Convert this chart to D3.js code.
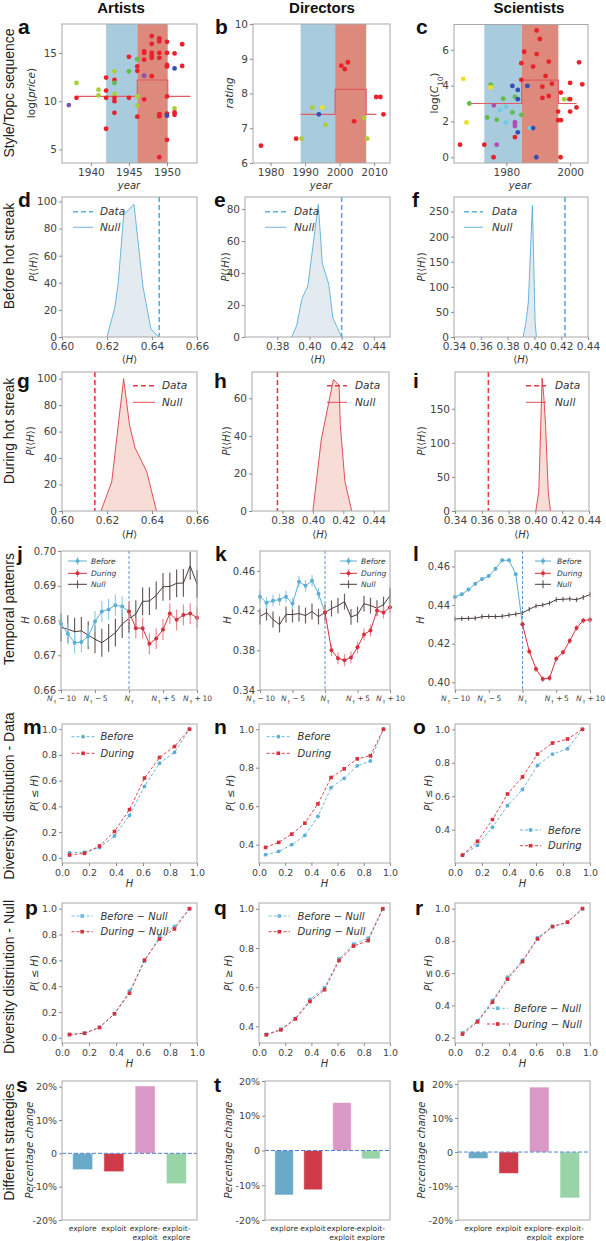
<!DOCTYPE html>
<html>
<head>
<meta charset="utf-8">
<script src="https://d3js.org/d3.v7.min.js"></script>
<style>
  body { margin: 0; background: #fff; }
  svg { display: block; }
</style>
</head>
<body>
<script>
// ---- a–c: style / topic sequences, [year, value, colour key] ----
const aPoints = [
  [1937.1, 9.6, 'P'], [1938.1, 10.35, 'R'], [1938.1, 11.9, 'Y'], [1941.0, 11.2, 'Y'], [1941.0, 10.6, 'Y'],
  [1942.0, 12.45, 'R'], [1942.0, 11.1, 'R'], [1942.0, 10.35, 'R'], [1942.0, 7.15, 'R'],
  [1943.1, 13.1, 'Y'], [1943.1, 12.2, 'R'], [1943.1, 11.9, 'G'], [1943.1, 10.75, 'Y'], [1943.1, 10.35, 'R'],
  [1943.1, 10.0, 'R'], [1943.1, 8.8, 'R'], [1945.0, 14.6, 'R'], [1945.0, 13.1, 'G'], [1945.0, 10.35, 'R'],
  [1946.1, 14.35, 'G'], [1946.1, 13.6, 'R'], [1946.1, 13.15, 'R'], [1946.1, 10.5, 'Y'], [1946.1, 9.55, 'Y'],
  [1946.1, 8.4, 'R'], [1947.0, 15.15, 'R'], [1947.0, 15.0, 'R'], [1947.0, 14.3, 'R'], [1947.0, 12.65, 'P'],
  [1947.0, 10.2, 'R'], [1948.0, 16.75, 'R'], [1948.0, 15.95, 'R'], [1948.0, 15.0, 'R'], [1948.0, 14.7, 'R'],
  [1948.0, 14.5, 'R'], [1948.0, 12.6, 'R'], [1949.0, 16.5, 'R'], [1949.0, 16.2, 'R'], [1949.0, 15.0, 'R'],
  [1949.0, 14.5, 'R'], [1949.0, 8.65, 'R'], [1949.0, 8.45, 'R'], [1949.0, 4.2, 'R'], [1950.0, 16.15, 'R'],
  [1950.0, 15.0, 'R'], [1950.0, 13.75, 'R'], [1950.0, 13.6, 'R'], [1950.0, 10.5, 'R'], [1950.0, 8.7, 'R'],
  [1950.0, 8.5, 'B'], [1950.0, 6.0, 'R'], [1951.0, 14.95, 'R'], [1951.0, 13.4, 'B'], [1951.0, 9.25, 'Y'],
  [1951.0, 8.85, 'R'], [1951.0, 8.6, 'R'], [1952.0, 15.9, 'R'], [1952.0, 13.65, 'R']
];
const aBands = [1942.0, 1946.1, 1950.1];
const aSteps = [[1938.1, 10.5], [1946.1, 12.2], [1950.1, 10.5], [1953.1, 10.5]];

const bPoints = [
  [1977.2, 6.5, 'R'], [1987.4, 6.7, 'R'], [1989.0, 6.7, 'Y'], [1992.1, 7.6, 'Y'], [1994.0, 7.4, 'B'],
  [1995.0, 7.6, 'L'], [1995.9, 7.1, 'Y'], [2000.5, 8.8, 'R'], [2001.5, 8.7, 'R'], [2002.4, 8.9, 'R'],
  [2004.2, 7.2, 'R'], [2007.1, 7.3, 'Y'], [2008.0, 6.7, 'Y'], [2010.6, 7.9, 'R'], [2011.8, 7.9, 'R'],
  [2012.7, 7.4, 'R']
];
const bBands = [1988.7, 1998.7, 2007.7];
const bSteps = [[1988.7, 7.4], [1998.7, 8.12], [2007.7, 7.4], [2010.6, 7.4]];

const cPoints = [
  [1966.5, 4.37, 'L'], [1967.5, 1.94, 'L'], [1968.4, 3.0, 'G'], [1965.5, 0.7, 'R'], [1973.1, 0.7, 'R'],
  [1977.0, 0.7, 'M'], [1975.1, 4.05, 'G'], [1975.1, 3.9, 'L'], [1976.1, 2.9, 'M'], [1974.0, 2.22, 'G'],
  [1977.0, 2.09, 'G'], [1978.0, 2.63, 'C'], [1979.9, 2.82, 'C'], [1979.0, 3.27, 'G'], [1979.9, 1.94, 'C'],
  [1981.9, 2.5, 'G'], [1982.7, 1.96, 'M'], [1982.7, 1.85, 'M'], [1982.7, 1.74, 'M'], [1982.7, 3.37, 'G'],
  [1981.9, 3.98, 'B'], [1983.6, 3.76, 'B'], [1983.6, 3.24, 'B'], [1984.7, 2.37, 'G'], [1982.7, 1.12, 'R'],
  [1983.6, 1.39, 'B'], [1987.4, 1.63, 'C'], [1988.4, 1.63, 'B'], [1986.6, 3.98, 'B'], [1984.7, 5.25, 'R'],
  [1985.6, 5.89, 'R'], [1984.7, 4.32, 'R'], [1989.5, 7.08, 'R'], [1990.5, 6.6, 'R'], [1989.5, 5.76, 'R'],
  [1988.4, 5.06, 'R'], [1993.3, 5.34, 'R'], [1992.3, 4.54, 'R'], [1991.3, 3.94, 'R'], [1991.3, 3.31, 'R'],
  [1993.3, 3.42, 'R'], [1994.3, 4.11, 'R'], [1997.1, 3.61, 'R'], [1996.2, 2.55, 'R'], [1996.2, 2.07, 'R'],
  [1997.1, 2.07, 'R'], [1998.1, 3.24, 'Y'], [1999.6, 3.24, 'G'], [2000.0, 4.15, 'R'], [2000.0, 3.24, 'R'],
  [2000.0, 2.55, 'R'], [2002.0, 2.78, 'R'], [2002.8, 5.3, 'R'], [2003.8, 4.07, 'R'], [1976.0, 0.0, 'R'],
  [1989.4, 0.0, 'B'], [1997.0, 0.0, 'R']
];
const cBands = [1973.1, 1984.8, 1996.3];
const cSteps = [[1968.4, 3.0], [1984.8, 4.3], [1996.3, 3.0], [2002.0, 3.0]];

// ---- d–i: null distributions of <H> ----
const dH = [0.620, 0.6235, 0.625, 0.6274, 0.632, 0.636, 0.6395, 0.643];
const dP = [0, 22, 40, 90, 98, 37, 6, 0];
const dData = 0.6432;
const eH = [0.389, 0.392, 0.3954, 0.399, 0.4055, 0.408, 0.412, 0.4145, 0.420];
const eP = [0, 7, 24, 32, 83, 46, 33, 12, 0];
const eData = 0.420;
const fH = [0.3915, 0.3935, 0.3955, 0.3975, 0.3985, 0.3995, 0.4005, 0.4015];
const fP = [0, 25, 70, 200, 262, 150, 30, 0];
const fData = 0.4228;
const gH = [0.6173, 0.6221, 0.625, 0.6274, 0.630, 0.6324, 0.6376, 0.642];
const gP = [0, 22, 65, 100, 65, 48, 30, 0];
const gData = 0.6146;
const hH = [0.400, 0.4055, 0.4135, 0.4172, 0.418, 0.421, 0.4255];
const hP = [0, 38, 70, 67, 46, 16, 0];
const hData = 0.3767;
const iH = [0.4003, 0.4025, 0.4040, 0.4050, 0.4062, 0.4076, 0.4096, 0.4112];
const iP = [0, 28, 126, 195, 170, 126, 28, 0];
const iData = 0.3649;

// ---- j–l: temporal patterns ----
const tBefore = [-10, -9, -8, -7, -6, -5, -4, -3, -2, -1, 0];
const tDuring = [0, 1, 2, 3, 4, 5, 6, 7, 8, 9, 10];
const tNull = [-10, -9, -8, -7, -6, -5, -4, -3, -2, -1, 0, 1, 2, 3, 4, 5, 6, 7, 8, 9, 10];
const jBefore = [0.6791, 0.6762, 0.6736, 0.6738, 0.6755, 0.6797, 0.6826, 0.6832, 0.6844, 0.6840, 0.6826];
const jDuring = [0.6826, 0.6778, 0.6778, 0.6733, 0.6748, 0.6774, 0.6820, 0.6802, 0.6816, 0.6820, 0.6808];
const jNull = [0.6780, 0.6775, 0.6768, 0.6770, 0.6758, 0.6746, 0.6736, 0.6750, 0.6765, 0.6790, 0.6806,
  0.6818, 0.6855, 0.6856, 0.6872, 0.6897, 0.6898, 0.6907, 0.6908, 0.6957, 0.6905];
const jErr = [0.003, 0.003, 0.004];
const kBefore = [0.434, 0.428, 0.430, 0.431, 0.434, 0.427, 0.449, 0.445, 0.450, 0.437, 0.418];
const kDuring = [0.418, 0.380, 0.372, 0.370, 0.3727, 0.383, 0.396, 0.400, 0.420, 0.418, 0.4234];
const kNull = [0.414, 0.418, 0.411, 0.406, 0.416, 0.416, 0.417, 0.415, 0.419, 0.414, 0.418,
  0.422, 0.425, 0.429, 0.4136, 0.416, 0.427, 0.425, 0.4225, 0.426, 0.435];
const kErr = [0.006, 0.006, 0.008];
const lBefore = [0.4442, 0.4456, 0.4480, 0.4510, 0.4535, 0.4550, 0.4588, 0.4632, 0.4632, 0.4560, 0.4300];
const lDuring = [0.4300, 0.4160, 0.4069, 0.4017, 0.4022, 0.4122, 0.4155, 0.4215, 0.4281, 0.4320, 0.4324];
const lNull = [0.4328, 0.4330, 0.4331, 0.4332, 0.4340, 0.4341, 0.4340, 0.4342, 0.4348, 0.4353, 0.4360,
  0.4378, 0.4395, 0.4400, 0.4410, 0.4428, 0.4430, 0.4432, 0.4428, 0.4440, 0.4455];
const lErr = [0.001, 0.0015, 0.0012];

// ---- m–r: diversity distributions ----
const bins9 = [0.0556, 0.1667, 0.2778, 0.3889, 0.5, 0.6111, 0.7222, 0.8333, 0.9444];
const bins10 = [0.05, 0.15, 0.25, 0.35, 0.45, 0.55, 0.65, 0.75, 0.85, 0.95];
const mBefore = [0.040, 0.045, 0.080, 0.170, 0.330, 0.555, 0.735, 0.820, 1.0];
const mDuring = [0.022, 0.035, 0.092, 0.205, 0.375, 0.620, 0.780, 0.865, 1.0];
const nBefore = [0.348, 0.365, 0.400, 0.448, 0.547, 0.697, 0.745, 0.810, 0.835, 1.0];
const nDuring = [0.386, 0.412, 0.455, 0.512, 0.612, 0.749, 0.794, 0.846, 0.862, 1.0];
const oBefore = [0.247, 0.306, 0.414, 0.543, 0.640, 0.784, 0.852, 0.884, 1.0];
const oDuring = [0.247, 0.330, 0.460, 0.613, 0.715, 0.852, 0.918, 0.942, 1.0];
const pBefore = [0.027, 0.036, 0.081, 0.188, 0.362, 0.592, 0.785, 0.862, 1.0];
const pDuring = [0.025, 0.035, 0.080, 0.186, 0.345, 0.602, 0.765, 0.843, 1.0];
const qBefore = [0.359, 0.385, 0.440, 0.537, 0.597, 0.745, 0.820, 0.850, 1.0];
const qDuring = [0.357, 0.382, 0.438, 0.527, 0.587, 0.736, 0.810, 0.838, 1.0];
const rBefore = [0.230, 0.305, 0.430, 0.575, 0.680, 0.820, 0.889, 0.916, 1.0];
const rDuring = [0.222, 0.298, 0.420, 0.563, 0.672, 0.812, 0.889, 0.916, 1.0];

// ---- s–u: strategies ----
const strategies = ['explore', 'exploit', 'explore-exploit', 'exploit-explore'];
const sChange = [-4.9, -5.5, 20.2, -9.1];
const tChange = [-12.8, -11.3, 13.8, -2.4];
const uChange = [-1.9, -6.3, 19.1, -13.5];

// ---- labels ----
const columns = ['Artists', 'Directors', 'Scientists'];
const rows = ['Style/Topc sequence', 'Before hot streak', 'During hot streak', 'Temporal pattenrs',
  'Diversity distribution - Data', 'Diversity distriution - Null', 'Different strategies'];

// ================= drawing =================
const svg = d3.select('body').append('svg').attr('width', 606).attr('height', 1241);
const TICK = '"DejaVu Sans", sans-serif';
const SANS = '"Liberation Sans", Arial, sans-serif';
const PT = { R: '#e8212b', Y: '#a9cf38', G: '#5fbd4c', P: '#7e55a8', B: '#3550b0', C: '#74cbe0', M: '#b24db5', L: '#ece21f' };
const BLUE = '#5aafd6', RED = '#d7303d', DARK = '#4a3a3a';
const BAND_B = '#a9cbde', BAND_R = '#dd897c', STEP = '#e25a66';

let clipN = 0;
function panel(box, xd, yd) {
  const [x0, x1, y0, y1] = box;
  const x = d3.scaleLinear().domain(xd).range([x0, x1]);
  const y = d3.scaleLinear().domain(yd).range([y1, y0]);
  const id = 'cp' + (clipN++);
  svg.append('clipPath').attr('id', id).append('rect')
    .attr('x', x0).attr('y', y0).attr('width', x1 - x0).attr('height', y1 - y0);
  const g = svg.append('g');
  const inner = g.append('g').attr('clip-path', `url(#${id})`);
  return { box, x, y, g, inner };
}

function finish(p, o) {
  const [x0, x1, y0, y1] = p.box;
  p.g.append('rect').attr('x', x0).attr('y', y0).attr('width', x1 - x0).attr('height', y1 - y0)
    .attr('fill', 'none').attr('stroke', '#a8a8a8').attr('stroke-width', 1);
  const xa = d3.axisBottom(o.xs || p.x).tickSize(o.xts == null ? 3 : o.xts).tickPadding(3);
  if (o.xt) xa.tickValues(o.xt);
  if (o.xf) xa.tickFormat(o.xf);
  const gx = p.g.append('g').attr('transform', `translate(0,${y1})`).call(xa);
  const ya = d3.axisLeft(p.y).tickValues(o.yt).tickFormat(o.yf || (d => d)).tickSize(3).tickPadding(2);
  const gy = p.g.append('g').attr('transform', `translate(${x0},0)`).call(ya);
  [gx, gy].forEach(a => {
    a.select('.domain').remove();
    a.selectAll('line').attr('stroke', '#8c8c8c');
    a.selectAll('text').attr('font-family', TICK).attr('font-size', o.fs || 10).attr('fill', '#444');
  });
  if (o.xfs) gx.selectAll('text').attr('font-size', o.xfs);
  return { gx, gy };
}

function rich(t, parts) {
  parts.forEach(([s, st]) => {
    const sp = t.append('tspan').text(s);
    if (st === 'i') sp.attr('font-style', 'italic');
    if (st === 'sub') sp.attr('baseline-shift', 'sub').attr('font-size', '70%');
  });
  return t;
}
function yLabel(x, yc, parts, fs) {
  const t = svg.append('text').attr('transform', `translate(${x},${yc}) rotate(-90)`)
    .attr('text-anchor', 'middle').attr('font-family', TICK).attr('font-size', fs || 10).attr('fill', '#333');
  rich(t, parts);
}
function xLabel(xc, y, parts, fs) {
  const t = svg.append('text').attr('x', xc).attr('y', y)
    .attr('text-anchor', 'middle').attr('font-family', TICK).attr('font-size', fs || 10).attr('fill', '#333');
  rich(t, parts);
}
function letter(x, y, s) {
  svg.append('text').attr('x', x).attr('y', y).text(s)
    .attr('font-family', SANS).attr('font-weight', 'bold').attr('font-size', 21).attr('fill', '#111');
}
function legText(x, y, s, fs) {
  svg.append('text').attr('x', x).attr('y', y + fs * 0.35).text(s)
    .attr('font-family', TICK).attr('font-style', 'italic').attr('font-size', fs).attr('fill', '#333');
}
function legLine(x0, x1, y, col, dash, w) {
  svg.append('line').attr('x1', x0).attr('x2', x1).attr('y1', y).attr('y2', y)
    .attr('stroke', col).attr('stroke-width', w).attr('stroke-dasharray', dash || null);
}

// ---------- row 1 : scatter with bands ----------
function scatterPanel(p, pts, bands, steps) {
  p.inner.append('rect').attr('x', p.x(bands[0])).attr('width', p.x(bands[1]) - p.x(bands[0]))
    .attr('y', p.box[2]).attr('height', p.box[3] - p.box[2]).attr('fill', BAND_B);
  p.inner.append('rect').attr('x', p.x(bands[1])).attr('width', p.x(bands[2]) - p.x(bands[1]))
    .attr('y', p.box[2]).attr('height', p.box[3] - p.box[2]).attr('fill', BAND_R);
  p.inner.append('path').datum(steps)
    .attr('d', d3.line().x(d => p.x(d[0])).y(d => p.y(d[1])).curve(d3.curveStepAfter))
    .attr('fill', 'none').attr('stroke', STEP).attr('stroke-width', 1.2);
  p.inner.selectAll(null).data(pts).join('circle')
    .attr('cx', d => p.x(d[0])).attr('cy', d => p.y(d[1])).attr('r', 2.4).attr('fill', d => PT[d[2]]);
}
const yr = d3.format('d');
const pA = panel([62, 197, 24, 163], [1936.2, 1953.95], [3.6, 18.0]);
scatterPanel(pA, aPoints, aBands, aSteps);
finish(pA, { xt: [1940, 1945, 1950], xf: yr, yt: [5, 10, 15], fs: 10.5 });
const pB = panel([253, 390, 24, 163], [1974.9, 2014.6], [6, 10]);
scatterPanel(pB, bPoints, bBands, bSteps);
finish(pB, { xt: [1980, 1990, 2000, 2010], xf: yr, yt: [6, 7, 8, 9, 10], fs: 10.5 });
const pC = panel([454, 588, 24.5, 163], [1963.6, 2005.6], [-0.32, 7.41]);
scatterPanel(pC, cPoints, cBands, cSteps);
finish(pC, { xt: [1980, 2000], xf: yr, yt: [0, 2, 4, 6], fs: 10.5 });
xLabel(129, 189, [['year', 'i']]);
xLabel(321, 189, [['year', 'i']]);
xLabel(520, 189, [['year', 'i']]);
yLabel(35, 93, [['log(', ''], ['price', 'i'], [')', '']], 10.5);
yLabel(232.5, 93, [['rating', 'i']], 10.5);
yLabel(438, 93, [['log(', ''], ['C', 'i'], ['10', 'sub'], [')', '']], 10.5);

// ---------- rows 2 & 3 : null distributions ----------
function densityPanel(p, hs, ps, data, line, fill) {
  const pts = hs.map((h, i) => [h, ps[i]]);
  p.inner.append('path').datum(pts)
    .attr('d', d3.area().x(d => p.x(d[0])).y0(p.y(0)).y1(d => p.y(d[1])))
    .attr('fill', fill);
  p.inner.append('path').datum(pts)
    .attr('d', d3.line().x(d => p.x(d[0])).y(d => p.y(d[1])))
    .attr('fill', 'none').attr('stroke', line).attr('stroke-width', 0.9);
  p.inner.append('line').attr('x1', p.x(data)).attr('x2', p.x(data))
    .attr('y1', p.box[2]).attr('y2', p.box[3])
    .attr('stroke', line).attr('stroke-width', 1.6).attr('stroke-dasharray', '5,3');
}
const f2 = d3.format('.2f');
const pD = panel([62, 197, 197, 337], [0.60, 0.66], [0, 103.3]);
densityPanel(pD, dH, dP, dData, BLUE, '#e4ebf0');
finish(pD, { xt: [0.60, 0.62, 0.64, 0.66], xf: f2, yt: [0, 20, 40, 60, 80, 100], fs: 10.5 });
const pE = panel([245, 390, 197, 337], [0.36, 0.45], [0, 87.6]);
densityPanel(pE, eH, eP, eData, BLUE, '#e4ebf0');
finish(pE, { xt: [0.38, 0.40, 0.42, 0.44], xf: f2, yt: [0, 20, 40, 60, 80], fs: 10.5 });
const pF = panel([454, 588, 197, 337], [0.34, 0.44], [0, 279]);
densityPanel(pF, fH, fP, fData, BLUE, '#e4ebf0');
finish(pF, { xt: [0.34, 0.36, 0.38, 0.40, 0.42, 0.44], xf: f2, yt: [0, 50, 100, 150, 200, 250], fs: 10.5 });

const pG = panel([62, 197, 372, 511], [0.60, 0.66], [0, 105]);
densityPanel(pG, gH, gP, gData, '#dd3b47', '#f7ddd6');
finish(pG, { xt: [0.60, 0.62, 0.64, 0.66], xf: f2, yt: [0, 20, 40, 60, 80, 100], fs: 10.5 });
const pH = panel([252, 389, 372, 511], [0.36, 0.45], [0, 74]);
densityPanel(pH, hH, hP, hData, '#dd3b47', '#f7ddd6');
finish(pH, { xt: [0.38, 0.40, 0.42, 0.44], xf: f2, yt: [0, 20, 40, 60], fs: 10.5 });
const pI = panel([455, 589, 372, 511], [0.34, 0.44], [0, 204]);
densityPanel(pI, iH, iP, iData, '#dd3b47', '#f7ddd6');
finish(pI, { xt: [0.34, 0.36, 0.38, 0.40, 0.42, 0.44], xf: f2, yt: [0, 50, 100, 150], fs: 10.5 });

const angH = [['⟨', ''], ['H', 'i'], ['⟩', '']];
const pAngH = [['P', 'i'], ['(⟨', ''], ['H', 'i'], ['⟩)', '']];
[[129.5, 363], [318, 363], [521, 363], [129.5, 538], [320, 538], [522, 538]]
  .forEach(([x, y]) => xLabel(x, y, angH));
[[36.5, 267], [228.5, 267], [424.5, 267], [33.5, 441], [230, 441], [424.5, 441]]
  .forEach(([x, y]) => yLabel(x, y, pAngH, 10));

// legends d–i
[[73, 93, 100], [265, 286, 294], [464, 483, 492]].forEach(([a, b, t]) => {
  legLine(a, b, 211.7, BLUE, '5,3', 1.6); legText(t, 211.7, 'Data', 10.5);
  legLine(a, b, 227.3, BLUE, null, 0.9); legText(t, 227.3, 'Null', 10.5);
});
[[133, 155, 162], [327, 347, 355], [526, 546, 555]].forEach(([a, b, t]) => {
  legLine(a, b, 385.7, '#dd3b47', '5,3', 1.6); legText(t, 385.7, 'Data', 10.5);
  legLine(a, b, 402.3, '#dd3b47', null, 0.9); legText(t, 402.3, 'Null', 10.5);
});

// ---------- row 4 : temporal patterns ----------
function errSeries(p, ts, vals, err, col, ecol, marker) {
  p.g.selectAll(null).data(ts).join('line')
    .attr('x1', t => p.x(t)).attr('x2', t => p.x(t))
    .attr('y1', (t, i) => p.y(vals[i] - err)).attr('y2', (t, i) => Math.max(p.box[2], p.y(vals[i] + err)))
    .attr('stroke', ecol).attr('stroke-width', 1.2);
  p.g.append('path').datum(ts.map((t, i) => [t, vals[i]]))
    .attr('d', d3.line().x(d => p.x(d[0])).y(d => p.y(d[1])))
    .attr('fill', 'none').attr('stroke', col).attr('stroke-width', 1);
  if (marker) {
    p.g.selectAll(null).data(ts).join('circle')
      .attr('cx', t => p.x(t)).attr('cy', (t, i) => p.y(vals[i])).attr('r', 2).attr('fill', col);
  }
}
function temporal(p, before, during, nul, err) {
  p.g.append('line').attr('x1', p.x(0)).attr('x2', p.x(0)).attr('y1', p.box[2]).attr('y2', p.box[3])
    .attr('stroke', '#3b74c4').attr('stroke-width', 0.8).attr('stroke-dasharray', '3,2');
  errSeries(p, tNull, nul, err[2], DARK, '#6d5e5e', false);
  errSeries(p, tBefore, before, err[0], BLUE, '#93cde6', true);
  errSeries(p, tDuring, during, err[1], RED, '#ea8d93', true);
}
function nTicks(gx) {
  gx.selectAll('text').each(function (d) {
    const t = d3.select(this).text('');
    t.append('tspan').attr('font-style', 'italic').text('N');
    t.append('tspan').attr('baseline-shift', 'sub').attr('font-size', '70%').text('↑');
    if (d !== 0) t.append('tspan').text(d < 0 ? '\u2009−\u2009' + (-d) : '\u2009+\u2009' + d);
  });
}
const nt = [-10, -5, 0, 5, 10];
const pJ = panel([61, 197, 551, 690], [-10, 10], [0.66, 0.70]);
temporal(pJ, jBefore, jDuring, jNull, jErr);
nTicks(finish(pJ, { xt: nt, yt: [0.66, 0.67, 0.68, 0.69, 0.70], yf: f2, fs: 10, xfs: 7.5 }).gx);
const pK = panel([260, 390, 551, 690], [-10, 10], [0.34, 0.48]);
temporal(pK, kBefore, kDuring, kNull, kErr);
nTicks(finish(pK, { xt: nt, yt: [0.34, 0.38, 0.42, 0.46], yf: f2, fs: 10, xfs: 7.5 }).gx);
const pL = panel([455, 590, 551, 690], [-10, 10], [0.396, 0.468]);
temporal(pL, lBefore, lDuring, lNull, lErr);
nTicks(finish(pL, { xt: nt, yt: [0.40, 0.42, 0.44, 0.46], yf: f2, fs: 10, xfs: 7.5 }).gx);
[29, 231, 424].forEach(x => yLabel(x, 620, [['H', 'i']], 10));

function errLegend(x0, x1, tx) {
  const items = [['Before', BLUE, '#93cde6', true, 561], ['During', RED, '#ea8d93', true, 573.3], ['Null', DARK, '#6d5e5e', false, 584.3]];
  items.forEach(([lab, c, ec, mk, y]) => {
    const xm = (x0 + x1) / 2;
    svg.append('line').attr('x1', xm).attr('x2', xm).attr('y1', y - 4).attr('y2', y + 4).attr('stroke', ec).attr('stroke-width', 1.2);
    legLine(x0, x1, y, c, null, 1);
    if (mk) svg.append('circle').attr('cx', xm).attr('cy', y).attr('r', 2).attr('fill', c);
    legText(tx, y, lab, 7.5);
  });
}
errLegend(68, 87, 91);
errLegend(340, 357, 361);
errLegend(535, 551, 557);

// ---------- rows 5 & 6 : diversity distributions ----------
function cdf(p, xs, vals, col, shape) {
  p.g.append('path').datum(xs.map((x, i) => [x, vals[i]]))
    .attr('d', d3.line().x(d => p.x(d[0])).y(d => p.y(d[1])))
    .attr('fill', 'none').attr('stroke', col).attr('stroke-width', 0.9).attr('stroke-dasharray', '3,2');
  if (shape === 'o') {
    p.g.selectAll(null).data(xs).join('circle')
      .attr('cx', x => p.x(x)).attr('cy', (x, i) => p.y(vals[i])).attr('r', 1.9).attr('fill', col);
  } else {
    p.g.selectAll(null).data(xs).join('rect')
      .attr('x', x => p.x(x) - 1.8).attr('y', (x, i) => p.y(vals[i]) - 1.8)
      .attr('width', 3.6).attr('height', 3.6).attr('fill', col);
  }
}
const f1 = d3.format('.1f');
const xt5 = [0, 0.2, 0.4, 0.6, 0.8, 1.0];
function cdfPanel(box, yd, yt, xs, before, during, nullMode) {
  const p = panel(box, [0, 1], yd);
  cdf(p, xs, before, nullMode ? '#6cb7dc' : BLUE, nullMode ? 's' : 'o');
  cdf(p, xs, during, RED, 's');
  finish(p, { xt: xt5, xf: f1, yt, yf: f1, fs: 9.5 });
  return p;
}
cdfPanel([62, 197, 724, 863], [-0.04, 1.04], [0, 0.2, 0.4, 0.6, 0.8, 1.0], bins9, mBefore, mDuring, false);
cdfPanel([259, 390, 724, 863], [0.305, 1.027], [0.4, 0.6, 0.8, 1.0], bins10, nBefore, nDuring, false);
cdfPanel([455, 590, 724, 863], [0.2, 1.032], [0.4, 0.6, 0.8, 1.0], bins9, oBefore, oDuring, false);
cdfPanel([62, 197, 903, 1043], [-0.04, 1.044], [0, 0.2, 0.4, 0.6, 0.8, 1.0], bins9, pBefore, pDuring, true);
cdfPanel([259, 390, 903, 1043], [0.315, 1.03], [0.4, 0.6, 0.8, 1.0], bins9, qBefore, qDuring, true);
cdfPanel([455, 590, 903, 1043], [0.167, 1.035], [0.2, 0.4, 0.6, 0.8, 1.0], bins9, rBefore, rDuring, true);
[129.5, 324.5, 522.5].forEach(x => { xLabel(x, 887, [['H', 'i']]); xLabel(x, 1067, [['H', 'i']]); });
const le = [['P', 'i'], ['( ≤ ', ''], ['H', 'i'], [')', '']];
const ge = [['P', 'i'], ['( ≥ ', ''], ['H', 'i'], [')', '']];
yLabel(38, 793, le); yLabel(233.5, 793, le); yLabel(432, 793, le);
yLabel(38, 973, le); yLabel(231.5, 973, ge); yLabel(432, 973, le);

function cdfLegend(x0, x1, tx, ys, labels, nullMode) {
  [[BLUE, 'o'], [RED, 's']].forEach(([c, sh], k) => {
    const col = nullMode && k === 0 ? '#6cb7dc' : c;
    legLine(x0, x1, ys[k], col, '3,2', 0.9);
    const xm = (x0 + x1) / 2;
    if (sh === 'o' && !nullMode) svg.append('circle').attr('cx', xm).attr('cy', ys[k]).attr('r', 1.9).attr('fill', col);
    else svg.append('rect').attr('x', xm - 1.8).attr('y', ys[k] - 1.8).attr('width', 3.6).attr('height', 3.6).attr('fill', col);
    legText(tx, ys[k], labels[k], 10);
  });
}
cdfLegend(71.5, 94.7, 100.5, [736.7, 753.3], ['Before', 'During'], false);
cdfLegend(266.7, 290, 297.6, [736.7, 753.3], ['Before', 'During'], false);
cdfLegend(520, 541, 548, [830, 845.7], ['Before', 'During'], false);
const nullLabs = ['Before − Null', 'During − Null'];
cdfLegend(71.5, 92.8, 100.5, [916, 931.7], nullLabs, true);
cdfLegend(268.6, 290, 297.6, [916, 931.7], nullLabs, true);
cdfLegend(487, 508.3, 514, [1008.3, 1024], nullLabs, true);

// ---------- row 7 : strategies ----------
const barColors = ['#6aaac9', '#cf3a48', '#d998c5', '#98d4a7'];
const pctFmt = d => (d === 0 ? '0' : d + '%');
function barPanel(box, yd, vals) {
  const p = panel(box, [0, 1], yd);
  const xb = d3.scaleBand().domain(strategies).range([box[0], box[1]]).paddingInner(0.36).paddingOuter(0.34);
  p.g.selectAll(null).data(strategies).join('rect')
    .attr('x', d => xb(d)).attr('width', xb.bandwidth())
    .attr('y', (d, i) => p.y(Math.max(0, vals[i]))).attr('height', (d, i) => Math.abs(p.y(vals[i]) - p.y(0)))
    .attr('fill', (d, i) => barColors[i]).attr('stroke', '#fff').attr('stroke-opacity', 0.5).attr('stroke-width', 1);
  p.g.append('line').attr('x1', box[0]).attr('x2', box[1]).attr('y1', p.y(0)).attr('y2', p.y(0))
    .attr('stroke', '#4f7fd0').attr('stroke-width', 1).attr('stroke-dasharray', '4,2');
  finish(p, { xs: xb, xts: 0, xf: () => '', yt: [-20, -10, 0, 10, 20], yf: pctFmt, fs: 9.5 });
  strategies.forEach(s => {
    const parts = s.includes('-') ? [s.split('-')[0] + '-', s.split('-')[1]] : [s];
    parts.forEach((line, k) => {
      svg.append('text').attr('x', xb(s) + xb.bandwidth() / 2).attr('y', 1231 + k * 8.5).text(line)
        .attr('text-anchor', 'middle').attr('font-family', TICK).attr('font-size', 7.5).attr('fill', '#333');
    });
  });
}
barPanel([62, 197, 1081, 1220], [-20, 21.7], sChange);
barPanel([265, 390, 1081, 1220], [-20, 20], tChange);
barPanel([458, 590, 1081, 1220], [-20, 20.9], uChange);
[32.5, 231.5, 424.5].forEach(x => yLabel(x, 1150, [['Percentage change', 'i']], 10));

// ---------- letters, titles, row labels ----------
'abc'.split('').forEach((s, i) => letter([18, 215, 416][i], 34, s));
'def'.split('').forEach((s, i) => letter([18, 214, 412][i], 207, s));
'ghi'.split('').forEach((s, i) => letter([17, 214, 413][i], 388, s));
'jkl'.split('').forEach((s, i) => letter([17, 215, 413][i], 561, s));
'mno'.split('').forEach((s, i) => letter([23, 214, 413][i], 734, s));
'pqr'.split('').forEach((s, i) => letter([25, 214, 415][i], 915, s));
'stu'.split('').forEach((s, i) => letter([16, 214, 412][i], 1092, s));

columns.forEach((c, i) => {
  svg.append('text').attr('x', [121, 322, 529][i]).attr('y', 13).text(c)
    .attr('text-anchor', 'middle').attr('font-family', SANS).attr('font-weight', 'bold')
    .attr('font-size', 15).attr('fill', '#111');
});
const rowCenters = [93, 256, 431, 609, 796, 977, 1142];
rows.forEach((r, i) => {
  svg.append('text').attr('transform', `translate(14,${rowCenters[i]}) rotate(-90)`)
    .attr('text-anchor', 'middle').text(r)
    .attr('font-family', SANS).attr('font-size', 14).attr('fill', '#222');
});
</script>
</body>
</html>
